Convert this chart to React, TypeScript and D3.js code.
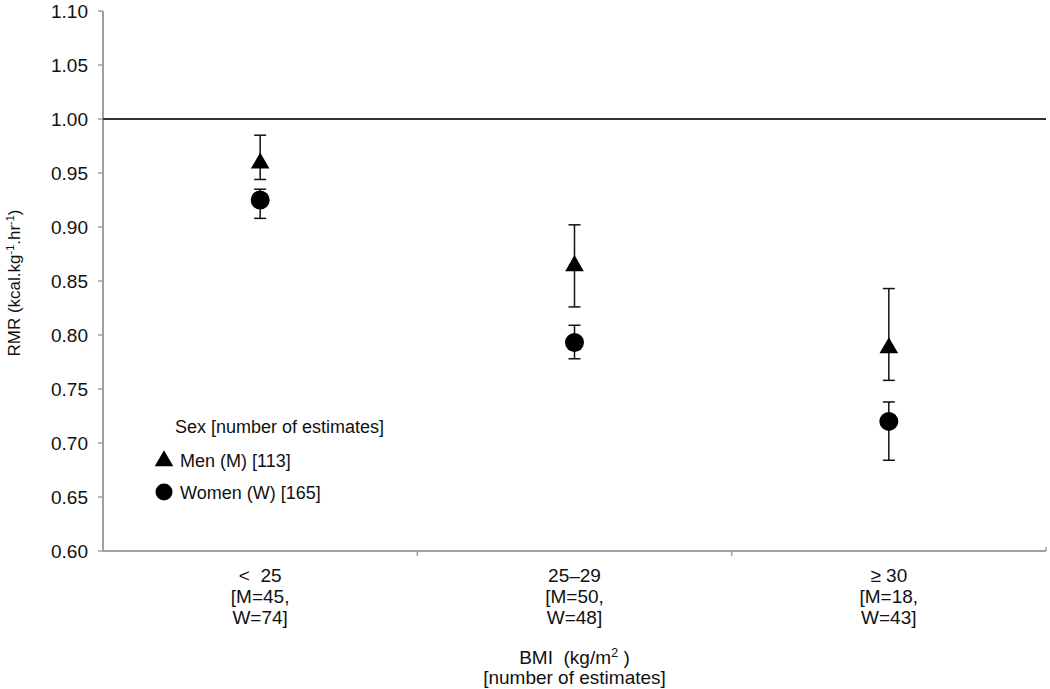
import React from 'react';
import * as d3 from 'd3';

const categories = ['<  25', '25–29', '≥ 30'];
const countLines = [['[M=45,', 'W=74]'], ['[M=50,', 'W=48]'], ['[M=18,', 'W=43]']];
const menMean = [0.96, 0.865, 0.789];
const menLow = [0.944, 0.826, 0.758];
const menHigh = [0.985, 0.902, 0.843];
const womenMean = [0.925, 0.793, 0.72];
const womenLow = [0.908, 0.778, 0.684];
const womenHigh = [0.935, 0.809, 0.738];
const yTicks = [0.6, 0.65, 0.7, 0.75, 0.8, 0.85, 0.9, 0.95, 1.0, 1.05, 1.1];

const W = 1050;
const H = 689;
const margin = { top: 11, right: 4, bottom: 138, left: 103 };

const App = () => {
  const x = d3.scaleBand<string>()
    .domain(categories)
    .range([margin.left, W - margin.right]);
  const y = d3.scaleLinear()
    .domain([0.6, 1.1])
    .range([H - margin.bottom, margin.top]);

  const font = 'Liberation Sans, Arial, sans-serif';
  const tri = d3.symbol().type(d3.symbolTriangle).size(150)();
  const cx = (c: string) => x(c)! + x.bandwidth() / 2;
  const base = y(0.6);

  // error bar with caps
  const errBar = (xc: number, lo: number, hi: number, key: string) => (
    <g key={key} stroke="#111" strokeWidth={1.5}>
      <line x1={xc} x2={xc} y1={y(lo)} y2={y(hi)} />
      <line x1={xc - 6} x2={xc + 6} y1={y(lo)} y2={y(lo)} />
      <line x1={xc - 6} x2={xc + 6} y1={y(hi)} y2={y(hi)} />
    </g>
  );

  return (
    <svg width={W} height={H} style={{ position: 'absolute', left: 0, top: 0, background: '#fff' }}
      fontFamily={font}>
      {/* y axis */}
      <line x1={margin.left} x2={margin.left} y1={y(1.1)} y2={base} stroke="#a0a0a0" strokeWidth={2} />
      {yTicks.map(t => (
        <g key={t}>
          <line x1={margin.left - 5} x2={margin.left} y1={y(t)} y2={y(t)} stroke="#a0a0a0" strokeWidth={1.5} />
          <text x={margin.left - 15} y={y(t)} dy="0.36em" textAnchor="end" fontSize={19} fill="#111">
            {d3.format('.2f')(t)}
          </text>
        </g>
      ))}
      {/* x axis */}
      <line x1={margin.left} x2={W - margin.right} y1={base} y2={base} stroke="#a0a0a0" strokeWidth={2} />
      {categories.slice(1).map(c => (
        <line key={c} x1={x(c)!} x2={x(c)!} y1={base} y2={base + 5} stroke="#a0a0a0" strokeWidth={1.5} />
      ))}
      <line x1={W - margin.right} x2={W - margin.right} y1={base - 4} y2={base} stroke="#a0a0a0" strokeWidth={1.5} />
      {/* reference line */}
      <line x1={margin.left} x2={W - margin.right} y1={y(1.0)} y2={y(1.0)} stroke="#333" strokeWidth={2} />

      {categories.map((c, i) => (
        <g key={c}>
          {errBar(cx(c), menLow[i], menHigh[i], 'm' + i)}
          {errBar(cx(c), womenLow[i], womenHigh[i], 'w' + i)}
          <path d={tri!} transform={`translate(${cx(c)},${y(menMean[i]) + 1})`} fill="#000" />
          <circle cx={cx(c)} cy={y(womenMean[i])} r={9.5} fill="#000" />
          <text x={cx(c)} y={582} textAnchor="middle" fontSize={19} fill="#111" style={{ whiteSpace: 'pre' }}>
            {c}
          </text>
          {countLines[i].map((l, j) => (
            <text key={j} x={cx(c)} y={603 + j * 21} textAnchor="middle" fontSize={19} fill="#111">{l}</text>
          ))}
        </g>
      ))}

      {/* axis titles */}
      <text x={cx(categories[1])} y={664} textAnchor="middle" fontSize={19} fill="#111" style={{ whiteSpace: 'pre' }}>
        BMI  (kg/m<tspan fontSize={13} dy={-7}>2</tspan><tspan dy={7}> )</tspan>
      </text>
      <text x={cx(categories[1])} y={684} textAnchor="middle" fontSize={19} fill="#111">[number of estimates]</text>
      <text transform={`translate(20,${(y(1.1) + base) / 2 + 2}) rotate(-90)`} textAnchor="middle" fontSize={17} fill="#111">
        RMR (kcal.kg<tspan fontSize={11} dy={-6}>-1</tspan><tspan dy={6}>.hr</tspan><tspan fontSize={11} dy={-6}>-1</tspan><tspan dy={6}>)</tspan>
      </text>

      {/* legend */}
      <g fontSize={18} fill="#111">
        <text x={175} y={433}>Sex [number of estimates]</text>
        <path d={tri!} transform="translate(164,461)" fill="#000" />
        <text x={180} y={467}>Men (M) [113]</text>
        <circle cx={164} cy={492} r={8.5} fill="#000" />
        <text x={180} y={499}>Women (W) [165]</text>
      </g>
    </svg>
  );
};

export default App;
